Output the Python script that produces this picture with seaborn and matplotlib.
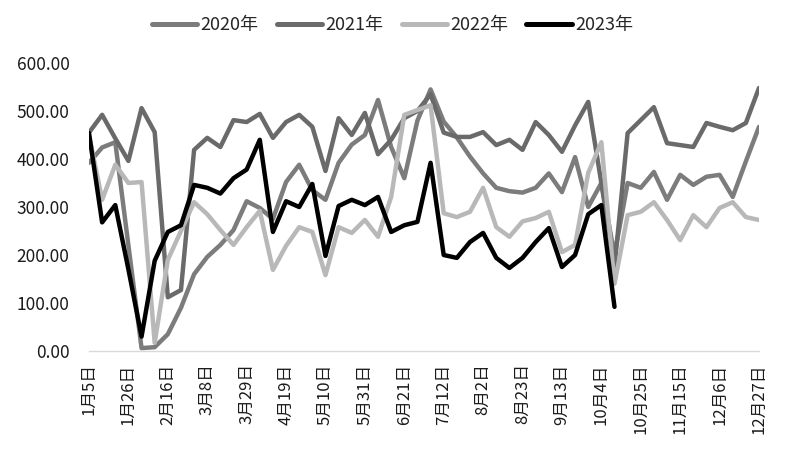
import numpy as np
import pandas as pd
import seaborn as sns
import matplotlib.pyplot as plt

# weekly values, 52 weeks starting 1月5日
weeks = list(range(52))
tick_labels = ['1月5日', '1月26日', '2月16日', '3月8日', '3月29日', '4月19日',
               '5月10日', '5月31日', '6月21日', '7月12日', '8月2日', '8月23日',
               '9月13日', '10月4日', '10月25日', '11月15日', '12月6日', '12月27日']

y2020 = [392, 424, 435, 220, 6, 8, 35, 90, 160, 196, 221, 252, 312, 298, 275, 352,
         388, 335, 315, 392, 430, 450, 523, 425, 360, 480, 545, 478, 445, 405, 370, 340,
         333, 330, 340, 370, 331, 404, 300, 350, 200, 350, 340, 373, 315, 367, 346, 363,
         367, 321, 395, 467]
y2021 = [455, 492, 443, 396, 506, 456, 112, 127, 419, 444, 425, 481, 477, 494, 444, 477,
         492, 467, 375, 485, 450, 496, 410, 440, 485, 500, 535, 455, 446, 446, 456, 429,
         440, 419, 477, 450, 415, 470, 519, 350, 175, 454, 481, 508, 433, 429, 425, 475,
         467, 460, 475, 548]
y2022 = [450, 315, 388, 350, 352, 17, 190, 250, 310, 285, 252, 221, 258, 292, 169, 219,
         258, 248, 158, 258, 246, 273, 238, 321, 492, 502, 512, 287, 279, 290, 340, 258,
         238, 270, 277, 290, 206, 221, 371, 435, 140, 283, 290, 310, 273, 231, 283, 258,
         298, 310, 279, 273]
y2023 = [454, 268, 304, 170, 30, 188, 248, 262, 346, 340, 328, 360, 378, 440, 248, 312,
         300, 348, 198, 302, 315, 304, 321, 248, 262, 269, 392, 200, 194, 227, 246, 194,
         173, 194, 227, 256, 175, 200, 285, 304, 92]

years = ['2020年', '2021年', '2022年', '2023年']
colors = {'2020年': '#7c7c7c', '2021年': '#6a6a6a', '2022年': '#b8b8b8', '2023年': '#000000'}

frames = []
for name, vals in zip(years, [y2020, y2021, y2022, y2023]):
    frames.append(pd.DataFrame({'week': weeks[:len(vals)], 'value': vals, 'year': name}))
df = pd.concat(frames, ignore_index=True)

sns.set_style('white')
plt.rcParams['font.family'] = ['Noto Sans CJK SC', 'DejaVu Sans']

fig = plt.figure(figsize=(7.9, 4.54), dpi=100)
ax = fig.add_axes([89 / 790, 103 / 454, 670 / 790, 288 / 454])

sns.lineplot(data=df, x='week', y='value', hue='year', palette=colors,
             linewidth=3.2, ax=ax, legend=True)

ax.set_xlim(0, 51)
ax.set_ylim(0, 600)
ax.set_yticks(np.arange(0, 601, 100))
ax.set_yticklabels([f'{v:.2f}' for v in np.arange(0, 601, 100)], fontsize=12.5)
ax.set_xticks(range(0, 52, 3))
ax.set_xticklabels(tick_labels, rotation=90, fontsize=12)
ax.set_xlabel('')
ax.set_ylabel('')

for side in ['top', 'right', 'left']:
    ax.spines[side].set_visible(False)
ax.spines['bottom'].set_color('#d9d9d9')
ax.spines['bottom'].set_linewidth(1)
ax.tick_params(axis='y', length=0, pad=14, colors='#1a1a1a')
ax.tick_params(axis='x', length=5, width=1, color='#d9d9d9', pad=4, labelcolor='#1a1a1a')

handles, labels = ax.get_legend_handles_labels()
leg = ax.legend(handles, labels, loc='upper center', bbox_to_anchor=(0.497, 1.0),
                bbox_transform=fig.transFigure, ncol=4, frameon=False, fontsize=13,
                handlelength=2.5, columnspacing=1.0, handletextpad=0.2)
for line in leg.get_lines():
    line.set_linewidth(3.6)

fig.savefig('out.png', dpi=100)
